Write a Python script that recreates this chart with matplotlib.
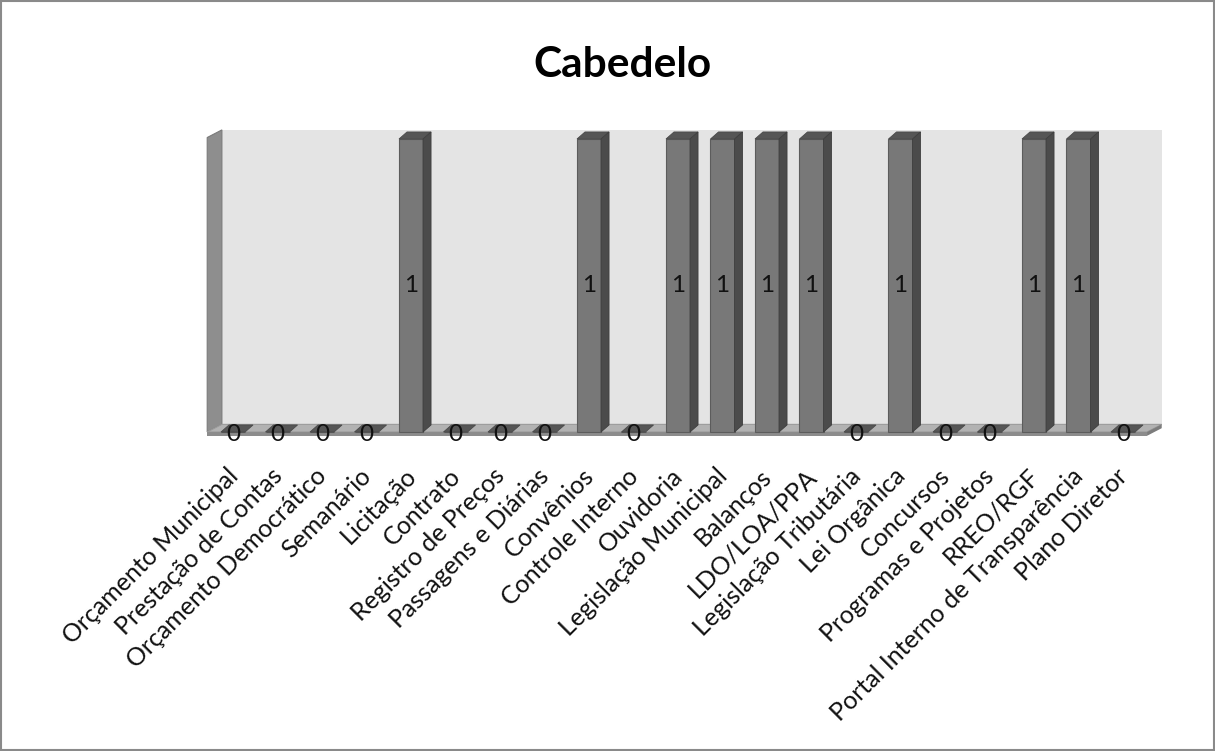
import matplotlib
matplotlib.use('Agg')
import matplotlib.pyplot as plt
from matplotlib.patches import Polygon, Rectangle
from matplotlib.transforms import ScaledTranslation

titulo = 'Cabedelo'
categorias = ['Orçamento Municipal', 'Prestação de Contas', 'Orçamento Democrático',
              'Semanário', 'Licitação', 'Contrato', 'Registro de Preços',
              'Passagens e Diárias', 'Convênios', 'Controle Interno', 'Ouvidoria',
              'Legislação Municipal', 'Balanços', 'LDO/LOA/PPA', 'Legislação Tributária',
              'Lei Orgânica', 'Concursos', 'Programas e Projetos', 'RREO/RGF',
              'Portal Interno de Transparência', 'Plano Diretor']
valores = [0, 0, 0, 0, 1, 0, 0, 0, 1, 0, 1, 1, 1, 1, 0, 1, 0, 0, 1, 1, 0]

plt.rcParams['font.family'] = ['Lato', 'DejaVu Sans']

W, H = 1215, 751
fig = plt.figure(figsize=(W / 100, H / 100), dpi=100)
ax = fig.add_axes([200 / W, 1 - 445 / H, 970 / W, 325 / H])
ax.set_xlim(-0.742, 21.056)
ax.set_ylim(-0.0444, 1.0648)

# fake 3d depth offsets (data units)
px, py = 0.18, 0.024      # bars
wx, wy = 0.33, 0.026      # walls / floor
x_ini, x_fim = -0.58, 20.54
y_topo = 1.005

# back wall, left wall, floor
ax.add_patch(Polygon([(x_ini + wx, wy), (x_fim + wx, wy), (x_fim + wx, y_topo + wy),
                      (x_ini + wx, y_topo + wy)], closed=True,
                     facecolor='#e4e4e4', edgecolor='none', zorder=0))
ax.add_patch(Polygon([(x_ini, 0), (x_ini + wx, wy), (x_ini + wx, y_topo + wy), (x_ini, y_topo)],
                     closed=True, facecolor='#8e8e8e', edgecolor='#7a7a7a', lw=0.8, zorder=1))
ax.add_patch(Polygon([(x_ini, 0), (x_fim, 0), (x_fim + wx, wy), (x_ini + wx, wy)], closed=True,
                     facecolor='#b2b2b2', edgecolor='#9a9a9a', lw=0.8, zorder=1))
ax.add_patch(Rectangle((x_ini, -0.013), x_fim - x_ini, 0.013,
                       facecolor='#8c8c8c', edgecolor='none', zorder=1))
ax.add_patch(Polygon([(x_fim, -0.013), (x_fim, 0), (x_fim + wx, wy), (x_fim + wx, wy - 0.013)],
                     closed=True, facecolor='#7c7c7c', edgecolor='none', zorder=1))

x = list(range(len(categorias)))
barras = ax.bar(x, valores, width=0.54, color='#787878', edgecolor='#5c5c5c',
                linewidth=0.8, zorder=3)

for b in barras:
    x0, w, h = b.get_x(), b.get_width(), b.get_height()
    # top face
    ax.add_patch(Polygon([(x0, h), (x0 + w, h), (x0 + w + px, h + py), (x0 + px, h + py)],
                         closed=True, facecolor='#565656', edgecolor='#4a4a4a',
                         lw=0.6, zorder=3))
    if h > 0:
        # side face
        ax.add_patch(Polygon([(x0 + w, 0), (x0 + w + px, py), (x0 + w + px, h + py), (x0 + w, h)],
                             closed=True, facecolor='#4b4b4b', edgecolor='#3e3e3e',
                             lw=0.6, zorder=3))

for i, v in enumerate(valores):
    ax.text(i, v / 2 if v else -0.01, str(v), ha='center', va='center', fontsize=17.5,
            color='#111111', zorder=5)

ax.set_xticks(x)
ax.set_xticklabels(categorias, rotation=45, ha='right', rotation_mode='anchor',
                   fontsize=18, color='#111111')
ax.tick_params(axis='x', length=0, pad=16)
desloc = ScaledTranslation(-0.07, 0.03, fig.dpi_scale_trans)
for lbl in ax.get_xticklabels():
    lbl.set_transform(lbl.get_transform() + desloc)
ax.set_yticks([])
for s in ax.spines.values():
    s.set_visible(False)
ax.set_facecolor('none')

fig.text(0.512, 1 - 65 / H, titulo, ha='center', va='center', fontsize=30.5,
         fontweight='bold', color='#000000')
fig.add_artist(Rectangle((0.001, 0.001), 0.998, 0.998, transform=fig.transFigure,
                         fill=False, edgecolor='#8a8a8a', lw=1.5))

fig.savefig('out.png', dpi=100)
